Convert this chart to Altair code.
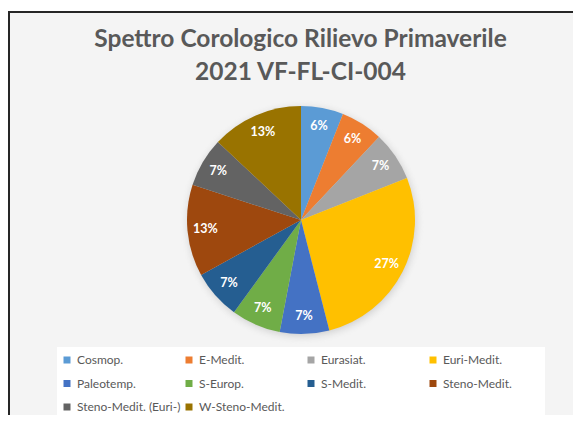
import altair as alt
import pandas as pd

categories = ["Cosmop.", "E-Medit.", "Eurasiat.", "Euri-Medit.", "Paleotemp.",
              "S-Europ.", "S-Medit.", "Steno-Medit.", "Steno-Medit. (Euri-)", "W-Steno-Medit."]
percentages = [6, 6, 7, 27, 7, 7, 7, 13, 7, 13]
colors = ["#5B9BD5", "#ED7D31", "#A5A5A5", "#FFC000", "#4472C4",
          "#70AD47", "#255E91", "#9E480E", "#636363", "#997300"]
title_lines = ["Spettro Corologico Rilievo Primaverile", "2021 VF-FL-CI-004"]

df = pd.DataFrame({
    "cat": categories,
    "pct": percentages,
    "ord": list(range(len(categories))),
    "label": [f"{p}%" for p in percentages],
})

W, H = 565, 407
CX, CY, R = 293, 212, 114
one = pd.DataFrame({"k": [0]})

frame = alt.Chart(one).mark_rect(fill="#F4F4F4", stroke="#262626", strokeWidth=2).encode(
    x=alt.value(1), x2=alt.value(W + 20), y=alt.value(4), y2=alt.value(H + 20))

legend_box = alt.Chart(one).mark_rect(fill="#FFFFFF").encode(
    x=alt.value(49), x2=alt.value(537), y=alt.value(339), y2=alt.value(H + 20))

shadow = alt.Chart(one).mark_arc(
    theta=0, theta2=6.2832, outerRadius=R + 9,
    color={"gradient": "radial", "x1": 0.5, "y1": 0.5, "r1": 0, "x2": 0.5, "y2": 0.5, "r2": 0.5,
           "stops": [{"offset": 0, "color": "#cfcfcf"},
                     {"offset": 0.9, "color": "#d2d2d2"},
                     {"offset": 1, "color": "rgba(244,244,244,0)"}]}
).encode(x=alt.value(CX + 1), y=alt.value(CY + 2))

pie = alt.Chart(df).mark_arc(outerRadius=R).encode(
    theta=alt.Theta("pct:Q", stack=True),
    order=alt.Order("ord:Q"),
    color=alt.Color("cat:N", scale=alt.Scale(domain=categories, range=colors),
                    legend=alt.Legend(title=None, orient="none", legendX=53, legendY=346,
                                      direction="horizontal",
                                      columns=4, gridAlign="all", symbolType="square",
                                      symbolSize=49, symbolStrokeWidth=0,
                                      labelFont="Lato", labelFontSize=12,
                                      labelColor="#595959", labelOffset=4,
                                      columnPadding=2, rowPadding=11.5, labelLimit=300,
                                      padding=0)),
    x=alt.value(CX), y=alt.value(CY),
)

labels = alt.Chart(df).mark_text(radius=96, font="Lato", fontWeight="bold", fontSize=12.5,
                                 color="white").encode(
    theta=alt.Theta("pct:Q", stack=True),
    order=alt.Order("ord:Q"),
    text="label:N",
    x=alt.value(CX), y=alt.value(CY),
)

t1 = alt.Chart(one).mark_text(text=title_lines[0], font="Lato", fontWeight="bold", fontSize=24.5,
                              color="#595959", baseline="alphabetic").encode(
    x=alt.value(292.5), y=alt.value(39))
t2 = alt.Chart(one).mark_text(text=title_lines[1], font="Lato", fontWeight="bold", fontSize=24.5,
                              color="#595959", baseline="alphabetic").encode(
    x=alt.value(292.5), y=alt.value(72))

chart = alt.layer(frame, legend_box, shadow, pie, labels, t1, t2).properties(
    width=W, height=H, autosize=alt.AutoSizeParams(type="none"), padding=0,
    background="white",
).configure_view(stroke=None)

chart.save("out.html", embed_options={"renderer": "svg", "actions": False})
